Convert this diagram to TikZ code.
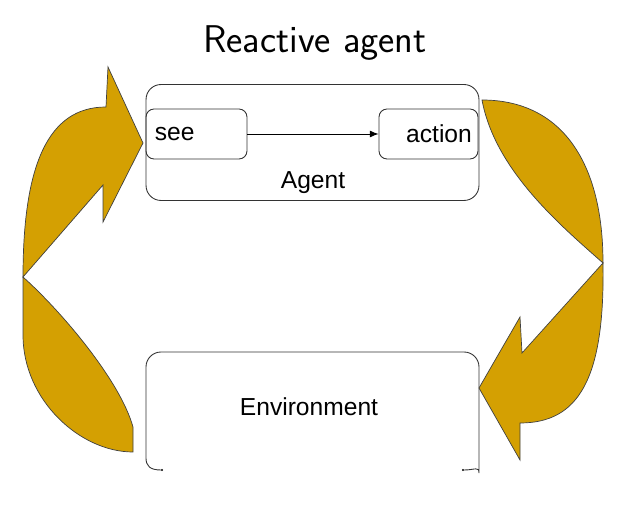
\documentclass[tikz,border=0pt]{standalone}
\usepackage{fontspec}
\setmainfont{Liberation Sans}
\usepackage{tikz}
\usetikzlibrary{arrows.meta}
\usepackage{xcolor}
\definecolor{loopgold}{RGB}{212,160,2}

\begin{document}
\begin{tikzpicture}[
    x=0.02cm, y=-0.02cm,
    box/.style={draw=black!80, line width=0.5pt, font=\fontsize{14}{16}\selectfont},
    arrow/.style={->, line width=0.5pt, >={Latex[length=5pt,width=4pt]}},
    loop/.style={fill=loopgold, draw=black!75, line width=0.4pt}
]
\useasboundingbox (0,0) rectangle (619,509);

% Titel
\node[font=\sffamily\fontsize{22}{26}\selectfont] (title) at (315,43) {Reactive agent};

% Agent mit see und action
\node[box, rounded corners=0.3cm, minimum width=6.66cm, minimum height=2.32cm] (agent) at (312.5,142.5) {};
\node[box, rounded corners=0.16cm, minimum width=2.02cm, minimum height=1cm,
      text width=2.02cm-10pt, inner xsep=5pt, align=left] (see) at (196.5,134) {see};
\node[box, rounded corners=0.16cm, minimum width=1.98cm, minimum height=1cm,
      text width=1.98cm-7pt, inner xsep=3.5pt, align=right] (action) at (428.5,134) {action};
\node[font=\fontsize{14}{16}\selectfont] (agentlbl) at (313,183) {Agent};
\draw[arrow] (see) -- (action);

% Umgebung (unten offen)
\draw[box] (161,470) .. controls (150,470) and (146,466) .. (146,458)
    {[rounded corners=0.3cm] -- (146,352) -- (479,352) -- (479,458)}
    .. controls (479,466) and (475,470) .. (464,470);
\fill (162,470) circle[radius=1.2] (463,470) circle[radius=1.2];
\node[font=\fontsize{14}{16}\selectfont] (env) at (309,407) {Environment};

% linker Pfeil: Umgebung -> see
\draw[loop] (143,143) -- (108,67) -- (106,107)
    .. controls (48,107) and (23,165) .. (23,277)
    -- (103,185) -- (103,222) -- cycle;
\draw[loop] (23,277) -- (23,335) .. controls (23,400) and (80,452) .. (133,452)
    -- (133,427) .. controls (120,380) and (60,310) .. cycle;

% rechter Pfeil: action -> Umgebung
\draw[loop] (482,100) .. controls (560,100) and (603,160) .. (603,263)
    .. controls (560,225) and (495,170) .. cycle;
\draw[loop] (603,263) .. controls (605,380) and (578,423) .. (520,423)
    -- (520,460) -- (479,388) -- (520,317) -- (522,353) -- cycle;

\end{tikzpicture}
\end{document}
